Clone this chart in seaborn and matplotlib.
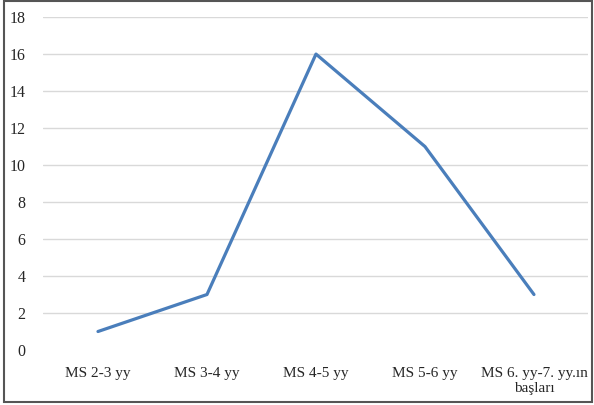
import matplotlib
matplotlib.use("Agg")
import matplotlib.pyplot as plt
import seaborn as sns
import pandas as pd
from matplotlib.patches import Rectangle

# veriler
donemler = ["MS 2-3 yy", "MS 3-4 yy", "MS 4-5 yy", "MS 5-6 yy", "MS 6. yy-7. yy.ın\nbaşları"]
sayilar = [1, 3, 16, 11, 3]

df = pd.DataFrame({"donem": donemler, "sayi": sayilar})

sns.set_style("white")
plt.rcParams["font.family"] = ["Liberation Serif", "DejaVu Serif"]

fig = plt.figure(figsize=(5.94, 4.05), dpi=100)
ax = fig.add_axes([0.0732, 0.1358, 0.9175, 0.822])

sns.lineplot(data=df, x="donem", y="sayi", ax=ax, color="#4a7ebb", linewidth=2.3, sort=False)

ax.set_xlim(-0.5, 4.5)
ax.set_ylim(0, 18)
ax.set_yticks(range(0, 19, 2))
ax.grid(axis="y", color="#d9d9d9", linewidth=1.0)
ax.get_ygridlines()[0].set_visible(False)
ax.set_axisbelow(True)
for s in ax.spines.values():
    s.set_visible(False)
ax.set_xlabel("")
ax.set_ylabel("")
ax.tick_params(axis="y", length=0, pad=13, labelsize=11.5)
ax.tick_params(axis="x", length=0, pad=12, labelsize=11)

# dış çerçeve
fig.patches.append(Rectangle((4 / 594, 3 / 405), 588 / 594, 401 / 405, transform=fig.transFigure,
                             fill=False, edgecolor="#555555", linewidth=1.5))

fig.savefig("out.png", dpi=100)
